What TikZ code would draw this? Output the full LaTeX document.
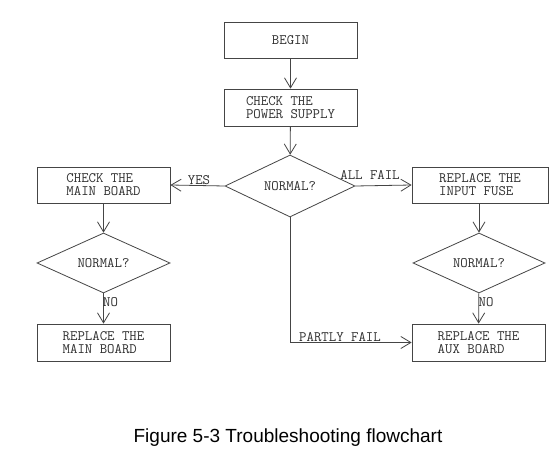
\documentclass[tikz,border=0pt]{standalone}
\usepackage{fontspec}
\setmainfont{Liberation Sans}
\usetikzlibrary{shapes.geometric,arrows.meta}
\definecolor{ln}{HTML}{454545}
\definecolor{tx}{HTML}{303030}
\newcommand{\flowfont}{\ttfamily\fontsize{14.4}{13}\selectfont}
\tikzset{
  box/.style={draw=ln, line width=0.8pt, rectangle, minimum width=133pt, minimum height=36pt, inner sep=0pt, align=left, text=tx, font=\flowfont},
  dia/.style={draw=ln, line width=0.8pt, diamond, aspect=2.1, inner sep=0pt, minimum width=132pt, minimum height=61pt, text=tx, font=\flowfont},
  lab/.style={text=tx, inner sep=1pt, font=\flowfont},
  conn/.style={draw=ln, line width=0.8pt, -{Straight Barb[length=10pt,width=12pt,line width=0.8pt]}},
}
\begin{document}
\begin{tikzpicture}[x=1pt,y=-1pt]
\useasboundingbox[fill=white] (0,0) rectangle (558,457);
\node[box] (begin) at (290.5,40) {BEGIN};
\node[box, minimum height=37pt] (ps) at (290.5,107.5) {CHECK THE\\POWER SUPPLY};
\node[dia, minimum width=130pt, minimum height=62pt] (d1) at (290,186) {NORMAL?};
\node[box] (mb) at (103.5,185) {CHECK THE\\MAIN BOARD};
\node[box, minimum width=136pt] (fuse) at (480,185) {REPLACE THE\\INPUT FUSE};
\node[dia, minimum width=133pt, minimum height=60pt] (d2) at (103.5,263) {NORMAL?};
\node[dia, minimum width=132pt, minimum height=60pt] (d3) at (479,263) {NORMAL?};
\node[box, minimum height=37pt] (rmb) at (103.5,342.5) {REPLACE THE\\MAIN BOARD};
\node[box, minimum height=37pt] (aux) at (478.5,342.5) {REPLACE THE\\AUX BOARD};
\draw[conn] (begin) -- (ps);
\draw[conn] (ps) -- (d1);
\draw[conn] (d1.west) -- (mb.east);
\draw[conn] (d1.east) -- (fuse.west);
\draw[conn] (mb) -- (d2);
\draw[conn] (d2) -- (rmb);
\draw[conn] (fuse.south -| d3.north) -- (d3);
\draw[conn] (d3) -- (aux);
\draw[conn] (d1.south) |- (aux.west);
\node[lab] (yes) at (199,180) {YES};
\node[lab] (allfail) at (370,175) {ALL FAIL};
\node[lab, anchor=west] (no1) at (102,302) {NO};
\node[lab, anchor=west] (no2) at (477.5,302) {NO};
\node[lab] (partly) at (340,337) {PARTLY FAIL};
\node[text=black, font=\fontsize{19}{22}\selectfont, inner sep=0pt] (cap) at (288,437.5) {Figure 5-3 Troubleshooting flowchart};
\end{tikzpicture}
\end{document}
